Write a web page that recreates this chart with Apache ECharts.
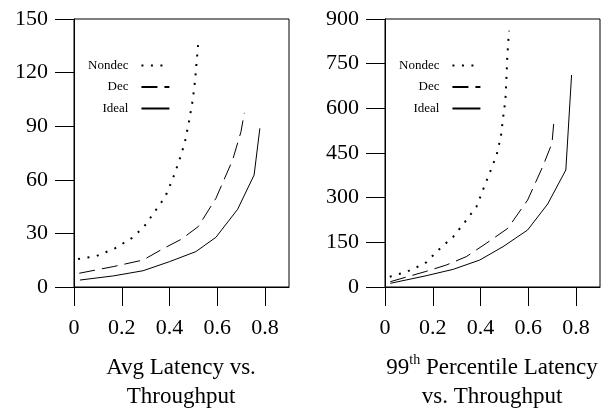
<!DOCTYPE html>
<html>
<head>
<meta charset="utf-8">
<script src="https://cdn.jsdelivr.net/npm/echarts@6/dist/echarts.min.js"></script>
<style>
  html, body { margin: 0; padding: 0; background: #fff; }
  #chart { width: 614px; height: 409px; }
</style>
</head>
<body>
<div id="chart"></div>
<script>
// throughput (x) and latency (y)
const avgNondecX = [0.017, 0.094, 0.171, 0.24, 0.29, 0.333, 0.382, 0.414, 0.439, 0.463, 0.48, 0.497, 0.507, 0.514, 0.52];
const avgNondecY = [15.7, 17.3, 21.6, 27.2, 33.2, 41.2, 50.5, 60.8, 70.1, 80.4, 91.6, 104.6, 115.8, 127, 136.4];
const avgDecX = [0.022, 0.164, 0.289, 0.375, 0.449, 0.52, 0.594, 0.664, 0.699, 0.713];
const avgDecY = [7.7, 11.4, 15.1, 21.6, 26.7, 33.8, 49.6, 71.1, 86.9, 97.5];
const avgIdealX = [0.025, 0.164, 0.289, 0.4, 0.51, 0.594, 0.685, 0.754, 0.778];
const avgIdealY = [3.9, 6.2, 9.1, 14.2, 19.8, 27.8, 43.5, 62.7, 88.8];

const p99NondecX = [0.02, 0.092, 0.168, 0.231, 0.286, 0.335, 0.383, 0.418, 0.446, 0.467, 0.485, 0.494, 0.504, 0.508, 0.512, 0.519];
const p99NondecY = [34.6, 51.5, 79.5, 129.9, 169, 219, 269.7, 342.5, 398.6, 443, 504.8, 566.4, 628, 695, 773, 860.7];
const p99DecX = [0.022, 0.168, 0.257, 0.34, 0.424, 0.514, 0.597, 0.66, 0.699, 0.708];
const p99DecY = [17.8, 51.5, 73.9, 101.8, 146.7, 197, 292, 404, 482.5, 566];
const p99IdealX = [0.022, 0.168, 0.286, 0.397, 0.494, 0.597, 0.681, 0.757, 0.781];
const p99IdealY = [12.3, 37, 59.4, 90.7, 135.4, 191.4, 278.7, 392.9, 711.9];

const xTicks = [0, 0.2, 0.4, 0.6, 0.8];
const seriesNames = ['Nondec', 'Dec', 'Ideal'];

const FONT = 'Liberation Serif';

function pairs(xs, ys) {
  return xs.map((x, i) => [x, ys[i]]);
}

const lineStyles = {
  Nondec: { color: '#000', width: 2, type: [2, 7.5], cap: 'butt' },
  Dec: { color: '#000', width: 1, type: [16, 7] },
  Ideal: { color: '#000', width: 1, type: 'solid' }
};

function makeSeries(name, xs, ys, idx) {
  return {
    name: name,
    type: 'line',
    xAxisIndex: idx,
    yAxisIndex: idx,
    data: pairs(xs, ys),
    showSymbol: false,
    symbol: 'none',
    lineStyle: lineStyles[name],
    itemStyle: { color: '#000' },
    animation: false
  };
}

function xAxisFor(idx) {
  return {
    gridIndex: idx,
    type: 'value',
    min: 0,
    max: 0.9,
    axisLine: { show: true, lineStyle: { color: '#000', width: 1 } },
    axisTick: { show: true, length: 19, customValues: xTicks, lineStyle: { color: '#000', width: 1 } },
    axisLabel: { customValues: xTicks, margin: 30, color: '#000', fontFamily: FONT, fontSize: 22 },
    splitLine: { show: false }
  };
}

function yAxisFor(idx, max, interval) {
  return {
    gridIndex: idx,
    type: 'value',
    min: 0,
    max: max,
    interval: interval,
    axisLine: { show: true, lineStyle: { color: '#000', width: 1 } },
    axisTick: { show: true, length: 19, lineStyle: { color: '#000', width: 1 } },
    axisLabel: { margin: 26, color: '#000', fontFamily: FONT, fontSize: 22 },
    splitLine: { show: false }
  };
}

function legendFor(left) {
  return {
    data: seriesNames,
    orient: 'vertical',
    align: 'right',
    left: left,
    top: 59,
    padding: 0,
    itemWidth: 28,
    itemHeight: 14,
    itemGap: 8.5,
    selectedMode: false,
    itemStyle: { opacity: 0 },
    textStyle: { fontFamily: FONT, fontSize: 13, color: '#000', padding: [0, 8, 0, 0] }
  };
}

const titleText = { fontFamily: FONT, fontSize: 23, color: '#000', fontWeight: 'normal', lineHeight: 29 };

const option = {
  backgroundColor: '#fff',
  animation: false,
  title: [
    {
      text: 'Avg Latency vs.\nThroughput',
      left: 181,
      top: 353,
      textAlign: 'center',
      padding: 0,
      textStyle: titleText
    },
    {
      text: '{a|99}{sup|th}{a| Percentile Latency}\n{a|vs. Throughput}',
      left: 492,
      top: 353,
      textAlign: 'center',
      padding: 0,
      textStyle: Object.assign({}, titleText, {
        rich: {
          a: { fontFamily: FONT, fontSize: 23, color: '#000', lineHeight: 29 },
          sup: { fontFamily: FONT, fontSize: 14, color: '#000', verticalAlign: 'top', lineHeight: 22 }
        }
      })
    }
  ],
  legend: [legendFor(88), legendFor(399)],
  grid: [
    { left: 74, top: 19, width: 215, height: 268, show: true, borderColor: '#000', borderWidth: 1, backgroundColor: 'transparent' },
    { left: 385, top: 19, width: 215, height: 268, show: true, borderColor: '#000', borderWidth: 1, backgroundColor: 'transparent' }
  ],
  xAxis: [xAxisFor(0), xAxisFor(1)],
  yAxis: [yAxisFor(0, 150, 30), yAxisFor(1, 900, 150)],
  series: [
    makeSeries('Nondec', avgNondecX, avgNondecY, 0),
    makeSeries('Dec', avgDecX, avgDecY, 0),
    makeSeries('Ideal', avgIdealX, avgIdealY, 0),
    makeSeries('Nondec', p99NondecX, p99NondecY, 1),
    makeSeries('Dec', p99DecX, p99DecY, 1),
    makeSeries('Ideal', p99IdealX, p99IdealY, 1)
  ]
};

const chart = echarts.init(document.getElementById('chart'), null, { renderer: 'canvas' });
chart.setOption(option);
</script>
</body>
</html>
